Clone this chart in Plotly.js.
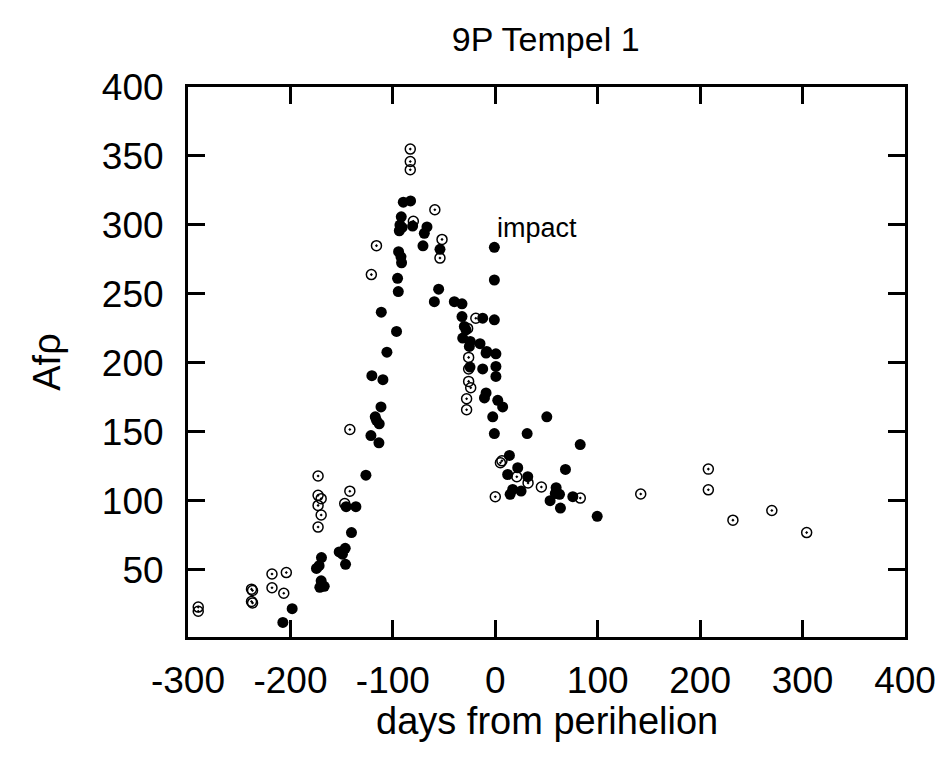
<!DOCTYPE html>
<html>
<head>
<meta charset="utf-8">
<script src="https://cdn.plot.ly/plotly-3.0.1.min.js"></script>
<style>html,body{margin:0;padding:0;background:#fff;}#chart{width:949px;height:760px;}</style>
</head>
<body>
<div id="chart"></div>
<script>
// Open (hollow) points: days from perihelion, Afρ
const openDays = [-290,-290,-238,-237,-238,-237,-218,-218,-204,-206.5,
  -173,-173,-170,-173,-170,-173,-142,-142,-147,-121,-116,
  -83,-83,-83,-80,-59,-52,-54,-19,-27,-26,-26,-26,-24,-28,-28,
  0,5,6.5,21,32,45,83,142,208,208,232,270,304];
const openAfp = [23,20,36,35,27,26,47,37,48,33,
  118,104,101.6,96.7,89.7,81,151.7,107,98,264,285,
  355,346,340,302.6,311,289.5,276,232.4,225,204,195.6,186.6,182,174,166,
  103,127.6,129,117.5,113,110,102,105,123,108,86,93,77];

// Filled points
const filledDays = [-198.3,-207.4,-169.7,-174.6,-172,-170,-171.3,-167,-152.4,-146.5,-149.2,-146.2,
  -145.6,-136.1,-140.4,-126.3,-121.4,-113.6,-117.2,-116,-113.3,-111.6,-120.5,-109.7,-105.8,-111.3,
  -96.4,-94.7,-95.4,-94.4,-92.1,-91.5,-93.7,-93.1,-91,-91.8,-89.8,-82.7,-80.7,-66.7,-69.3,-70.6,
  -54,-55.3,-59.5,-40,-32.5,-32.5,-12.3,-0.9,-0.9,-0.9,-28.6,-31.8,-25.3,-14.9,-9,0.6,0.6,0.6,
  -12.3,-24.7,-9,-10.6,2.4,7.2,-2.5,50.3,-0.9,31.1,13.8,21.9,12.1,31.7,68.5,82.9,17,14.5,25.2,
  59.4,62.7,58.6,53.5,75.7,63.6,99.5,-30.2,-24.4,-8.4];
const filledAfp = [21.8,11.9,58.9,51,53,42,37.3,38,63,65.6,61.3,54,
  95.8,95.8,77,118.6,147.3,142.1,160.9,158.4,155.8,168.1,190.7,187.8,207.8,236.8,
  222.8,251.7,261.3,280.6,276.9,272.6,295.8,299.9,298.2,305.9,316.5,317.4,299.2,298.6,293.9,284.9,
  282.3,253.4,244.4,244.4,242.8,233.6,232.4,283.8,260.1,231.2,224,218,211.9,213.9,207.1,206.6,197.4,190.2,
  195.6,197,178.2,174.6,172.9,168.1,160.9,160.9,148.8,148.8,132.9,124,119.1,117.5,122.8,140.8,108.3,104.7,107.1,
  109.5,104.7,105.4,100.1,103,94.8,88.8,226.4,215.5,208.3];

const xTicks = [-300,-200,-100,0,100,200,300,400];
const yTicks = [50,100,150,200,250,300,350,400];

const FONT = 'Liberation Sans, Arial, Helvetica, sans-serif';

const traces = [
  {x: openDays, y: openAfp, type: 'scatter', mode: 'markers', name: 'open',
   marker: {symbol: 'circle-open-dot', size: 10, color: '#000', line: {width: 1.5, color: '#000'}}},
  {x: filledDays, y: filledAfp, type: 'scatter', mode: 'markers', name: 'filled',
   marker: {symbol: 'circle', size: 11, color: '#000', line: {width: 0}}}
];

const axisCommon = {
  showline: true, linecolor: '#000', linewidth: 3, mirror: 'ticks',
  ticks: 'inside', ticklen: 17, tickwidth: 3, tickcolor: '#000',
  showgrid: false, zeroline: false,
  tickfont: {family: FONT, size: 37, color: '#000'}
};

const layout = {
  width: 949, height: 760,
  margin: {l: 188, r: 44, t: 87, b: 123},
  paper_bgcolor: '#fff', plot_bgcolor: '#fff',
  showlegend: false,
  font: {family: FONT, color: '#000'},
  title: {text: '9P Tempel 1', font: {family: FONT, size: 34, color: '#000'}, x: 0.575, xanchor: 'center', y: 0.948, yanchor: 'middle'},
  xaxis: Object.assign({}, axisCommon, {
    range: [-300, 400], tickvals: xTicks, ticktext: xTicks.map(String),
    ticklabelstandoff: 9
  }),
  yaxis: Object.assign({}, axisCommon, {
    range: [1.3, 400], tickvals: yTicks, ticktext: yTicks.map(String),
    ticklabelstandoff: 14,
    title: {text: 'Afρ', font: {family: FONT, size: 38, color: '#000'}, standoff: 30}
  }),
  annotations: [
    {x: 0, y: 298, xref: 'x', yref: 'y', text: 'impact', showarrow: false,
     xanchor: 'left', yanchor: 'middle', font: {family: FONT, size: 27, color: '#000'}},
    {x: 0.5, y: -0.1527, xref: 'paper', yref: 'paper', text: 'days from perihelion', showarrow: false,
     xanchor: 'center', yanchor: 'middle', font: {family: FONT, size: 38, color: '#000'}}
  ]
};

Plotly.newPlot('chart', traces, layout, {displayModeBar: false, staticPlot: true});
</script>
</body>
</html>
